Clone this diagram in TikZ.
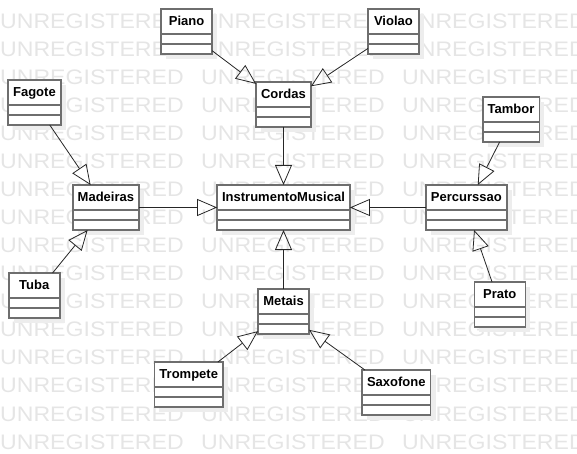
\documentclass[tikz,border=0pt]{standalone}
\usepackage{fontspec}
\setsansfont{Liberation Sans}
\newfontfamily\markfont[FakeStretch=1.1]{Liberation Sans}
\usepackage{tikz}
\usetikzlibrary{positioning,arrows.meta,shadows}
\definecolor{boxline}{HTML}{6E6E6E}
\definecolor{markgray}{HTML}{E5E5E5}
\tikzstyle{inherit} = [draw=black!85, line width=0.8pt, -{Triangle[open, length=20pt, width=17pt]}]

\begin{document}
\begin{tikzpicture}[
			x=1pt, y=-1pt,
			umlclass/.style={
					rectangle,
					draw=boxline,
					line width=1.6pt,
					fill=white,
					drop shadow={shadow xshift=5pt, shadow yshift=-5pt, fill=black!7, opacity=1},
					minimum width=51pt,
					minimum height=45pt,
					inner xsep=5pt,
					inner ysep=0pt,
					outer sep=0pt,
					text height=16.5pt,
					text depth=28.5pt,
					font=\sffamily\bfseries\fontsize{13}{15}\selectfont,
					path picture={
							\draw[boxline, line width=1.6pt]
							([yshift=-25pt]path picture bounding box.north west) -- ([yshift=-25pt]path picture bounding box.north east)
							([yshift=-35pt]path picture bounding box.north west) -- ([yshift=-35pt]path picture bounding box.north east);
						},
				},
			watermark/.style={
					anchor=base west,
					inner sep=0pt,
					text=markgray,
					font=\markfont\fontsize{21}{21}\selectfont,
				}
		]

		\useasboundingbox (0,0) rectangle (577,454);

		% Watermark rows
		\foreach \row in {0,...,15}
		\foreach \col in {0,1,2}
		\node[watermark] (wm-\row-\col) at (201*\col, 28.3+28.05*\row) {UNREGISTERED};

		% InstrumentoMusical class
		\node[umlclass] (instrumento) at (283.5,207.5) {InstrumentoMusical};

		% Families
		\node[umlclass, above=58pt of instrumento] (cordas) {Cordas};
		\node[umlclass, left=78pt of instrumento] (madeiras) {Madeiras};
		\node[umlclass, right=76pt of instrumento] (percurssao) {Percurssao};
		\node[umlclass, below=59pt of instrumento] (metais) {Metais};

		% Cordas instruments
		\node[umlclass, above left=28pt and 44pt of cordas] (piano) {Piano};
		\node[umlclass, above right=28pt and 57pt of cordas] (violao) {Violao};

		% Madeiras instruments
		\node[umlclass, above left=60pt and 12pt of madeiras] (fagote) {Fagote};
		\node[umlclass, below left=43pt and 13pt of madeiras] (tuba) {Tuba};

		% Percurssao instruments
		\node[umlclass, above right=43pt and -24pt of percurssao] (tambor) {Tambor};
		\node[umlclass, below=52pt of percurssao, xshift=33.5pt] (prato) {Prato};

		% Metais instruments
		\node[umlclass, below left=28pt and 35pt of metais] (trompete) {Trompete};
		\node[umlclass, below right=36pt and 53pt of metais] (saxofone) {Saxofone};

		% Generalizations
		\draw[inherit] (cordas) -- (instrumento);
		\draw[inherit] (madeiras) -- (instrumento);
		\draw[inherit] (percurssao) -- (instrumento);
		\draw[inherit] (metais) -- (instrumento);
		\draw[inherit] (piano) -- (cordas);
		\draw[inherit] (violao) -- (cordas);
		\draw[inherit] (fagote) -- (madeiras);
		\draw[inherit] (tuba) -- (madeiras);
		\draw[inherit] (tambor) -- (percurssao);
		\draw[inherit] (prato) -- (percurssao);
		\draw[inherit] (trompete) -- (metais);
		\draw[inherit] (saxofone) -- (metais);

	\end{tikzpicture}
\end{document}
